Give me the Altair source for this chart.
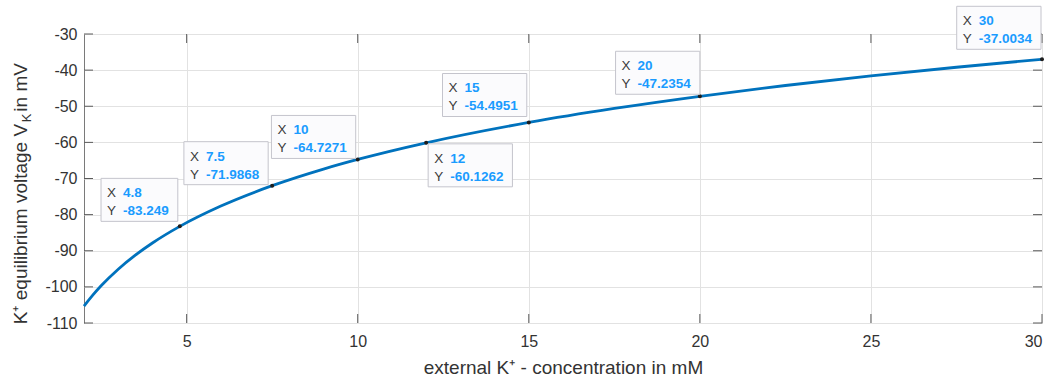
import altair as alt
import pandas as pd

# Nernst potential of K+ versus external concentration
conc = [2.0, 2.25, 2.5, 3.0, 3.5, 4.0, 4.8, 6.0, 7.5, 9.0, 10.0, 12.0, 15.0,
        17.5, 20.0, 22.5, 25.0, 27.5, 30.0]
volt = [-105.34, -102.37, -99.71, -95.11, -91.22, -87.85, -83.249, -77.62,
        -71.9868, -67.39, -64.7271, -60.1262, -54.4951, -50.61, -47.2354,
        -44.26, -41.60, -39.20, -37.0034]

# data tips
tip_x = [4.8, 7.5, 10, 12, 15, 20, 30]
tip_y = [-83.249, -71.9868, -64.7271, -60.1262, -54.4951, -47.2354, -37.0034]

x_ticks = [5, 10, 15, 20, 25, 30]
y_ticks = [-110, -100, -90, -80, -70, -60, -50, -40, -30]

# tip box placement: corner relative to the point and pixel gap
tip_layout = [("nw", 2, 5), ("nw", 4, 1), ("nw", 2, 1), ("se", 2, 1),
              ("nw", 2, 6), ("nw", 0, 2), ("nw", 1, 10)]

W, H = 958, 289
FONT = "Liberation Sans"
TXT = "#333333"
FRAME = "#7a7a7a"
BLUE_LINE = "#0072BD"
BLUE_TXT = "#1a9bff"
BOX_H = 43
TICK_LEN = 9

xs = alt.Scale(domain=[2, 30], nice=False, zero=False)
ys = alt.Scale(domain=[-110, -30], nice=False, zero=False)

x_axis = alt.Axis(
    values=x_ticks, title="external K\u207a - concentration in mM",
    grid=True, gridColor="#e2e2e2", gridWidth=1, domain=False, ticks=False,
    labelFont=FONT, labelFontSize=16, labelColor=TXT, labelPadding=10,
    labelExpr="'' + datum.value",
    titleFont=FONT, titleFontSize=19, titleFontWeight="normal",
    titleColor=TXT, titlePadding=9)
y_axis = alt.Axis(
    values=y_ticks, title=None,
    grid=True, gridColor="#e2e2e2", gridWidth=1, domain=False, ticks=False,
    labelFont=FONT, labelFontSize=16, labelColor=TXT, labelPadding=7,
    labelExpr="'' + datum.value")

X = alt.X("conc:Q", scale=xs, axis=x_axis)
Y = alt.Y("volt:Q", scale=ys, axis=y_axis)

# approximate advance widths (em) for sizing boxes and title pieces
REG = {" ": .278, "K": .667, "V": .667, "e": .556, "q": .556, "u": .556,
       "i": .222, "l": .222, "b": .556, "r": .333, "m": .833, "v": .5,
       "o": .556, "t": .278, "a": .556, "g": .556, "n": .556, "M": .833,
       "\u207a": .40}
BOLD_DIG = {"-": .333, ".": .278}


def reg_width(s, size):
    return sum(REG.get(c, .556) for c in s) * size


def bold_width(s, size):
    return sum(BOLD_DIG.get(c, .556) for c in s) * size


curve = pd.DataFrame({"conc": conc, "volt": volt})

line = alt.Chart(curve).mark_line(
    color=BLUE_LINE, strokeWidth=2.8, interpolate="monotone"
).encode(x=X, y=Y)

# inward tick marks on all four sides
xt = pd.DataFrame({"conc": x_ticks})
yt = pd.DataFrame({"volt": y_ticks})
tick_style = dict(color="#5a5a5a", strokeWidth=1)
ticks = [
    alt.Chart(xt).mark_rule(**tick_style).encode(
        x=X, y=alt.value(H), y2=alt.value(H - TICK_LEN)),
    alt.Chart(xt).mark_rule(**tick_style).encode(
        x=X, y=alt.value(0), y2=alt.value(TICK_LEN)),
    alt.Chart(yt).mark_rule(**tick_style).encode(
        y=Y, x=alt.value(0), x2=alt.value(TICK_LEN)),
    alt.Chart(yt).mark_rule(**tick_style).encode(
        y=Y, x=alt.value(W), x2=alt.value(W - TICK_LEN)),
]

tips = pd.DataFrame({"conc": tip_x, "volt": tip_y})
dots = alt.Chart(tips).mark_circle(size=16, color="#1e1e1e", opacity=1).encode(
    x=X, y=Y)

tip_layers = []
for (tx, ty), (corner, gx, gy) in zip(zip(tip_x, tip_y), tip_layout):
    xl, yl = f"{tx:g}", f"{ty:g}"
    w = 22 + max(bold_width(xl, 13.5), bold_width(yl, 13.5)) + 9
    if corner == "nw":
        left, top = -gx - w, -gy - BOX_H
    else:
        left, top = gx, gy
    d = pd.DataFrame({"conc": [tx], "volt": [ty], "xl": [xl], "yl": [yl]})
    box = alt.Chart(d).mark_rect(
        fill="#fbfbfd", stroke="#c4c4cc", strokeWidth=1,
        xOffset=left, x2Offset=left + w, yOffset=top, y2Offset=top + BOX_H,
    ).encode(x=X, x2="conc:Q", y=Y, y2="volt:Q")
    lab_style = dict(align="left", baseline="alphabetic", font=FONT,
                     fontSize=13.5)
    kx = alt.Chart(d).mark_text(color="#3c3c3c", dx=left + 6, dy=top + 19,
                                text="X", **lab_style).encode(x=X, y=Y)
    ky = alt.Chart(d).mark_text(color="#3c3c3c", dx=left + 6, dy=top + 37,
                                text="Y", **lab_style).encode(x=X, y=Y)
    vx = alt.Chart(d).mark_text(color=BLUE_TXT, fontWeight="bold", dx=left + 22,
                                dy=top + 19, **lab_style).encode(
        x=X, y=Y, text="xl:N")
    vy = alt.Chart(d).mark_text(color=BLUE_TXT, fontWeight="bold", dx=left + 22,
                                dy=top + 37, **lab_style).encode(
        x=X, y=Y, text="yl:N")
    tip_layers += [box, kx, ky, vx, vy]

# y-axis title with subscript K, set as rotated text pieces
TS = 19
SUB = 13
p1 = "K\u207a equilibrium voltage V"
p2 = "K"
p3 = " in mV"
w1, w2, w3 = reg_width(p1, TS), reg_width(p2, SUB) + 2, reg_width(p3, TS)
total = w1 + w2 + w3
y0 = 157 + total / 2
base_x = -57
title_layers = []
for txt, size, start, shift in [(p1, TS, y0, 0),
                                (p2, SUB, y0 - w1, 4),
                                (p3, TS, y0 - w1 - w2, 0)]:
    title_layers.append(
        alt.Chart(pd.DataFrame({"t": [txt]})).mark_text(
            angle=270, align="left", baseline="alphabetic", font=FONT,
            fontSize=size, color=TXT,
        ).encode(x=alt.value(base_x + shift), y=alt.value(start), text="t:N")
    )

chart = alt.layer(line, *ticks, dots, *tip_layers, *title_layers).properties(
    width=W, height=H,
    padding={"left": 84, "top": 34, "right": 14, "bottom": 58},
    autosize=alt.AutoSizeParams(type="none"),
    background="white",
).configure_view(stroke=FRAME, strokeWidth=1)

chart.save("out.html", embed_options={"renderer": "svg", "actions": False})
